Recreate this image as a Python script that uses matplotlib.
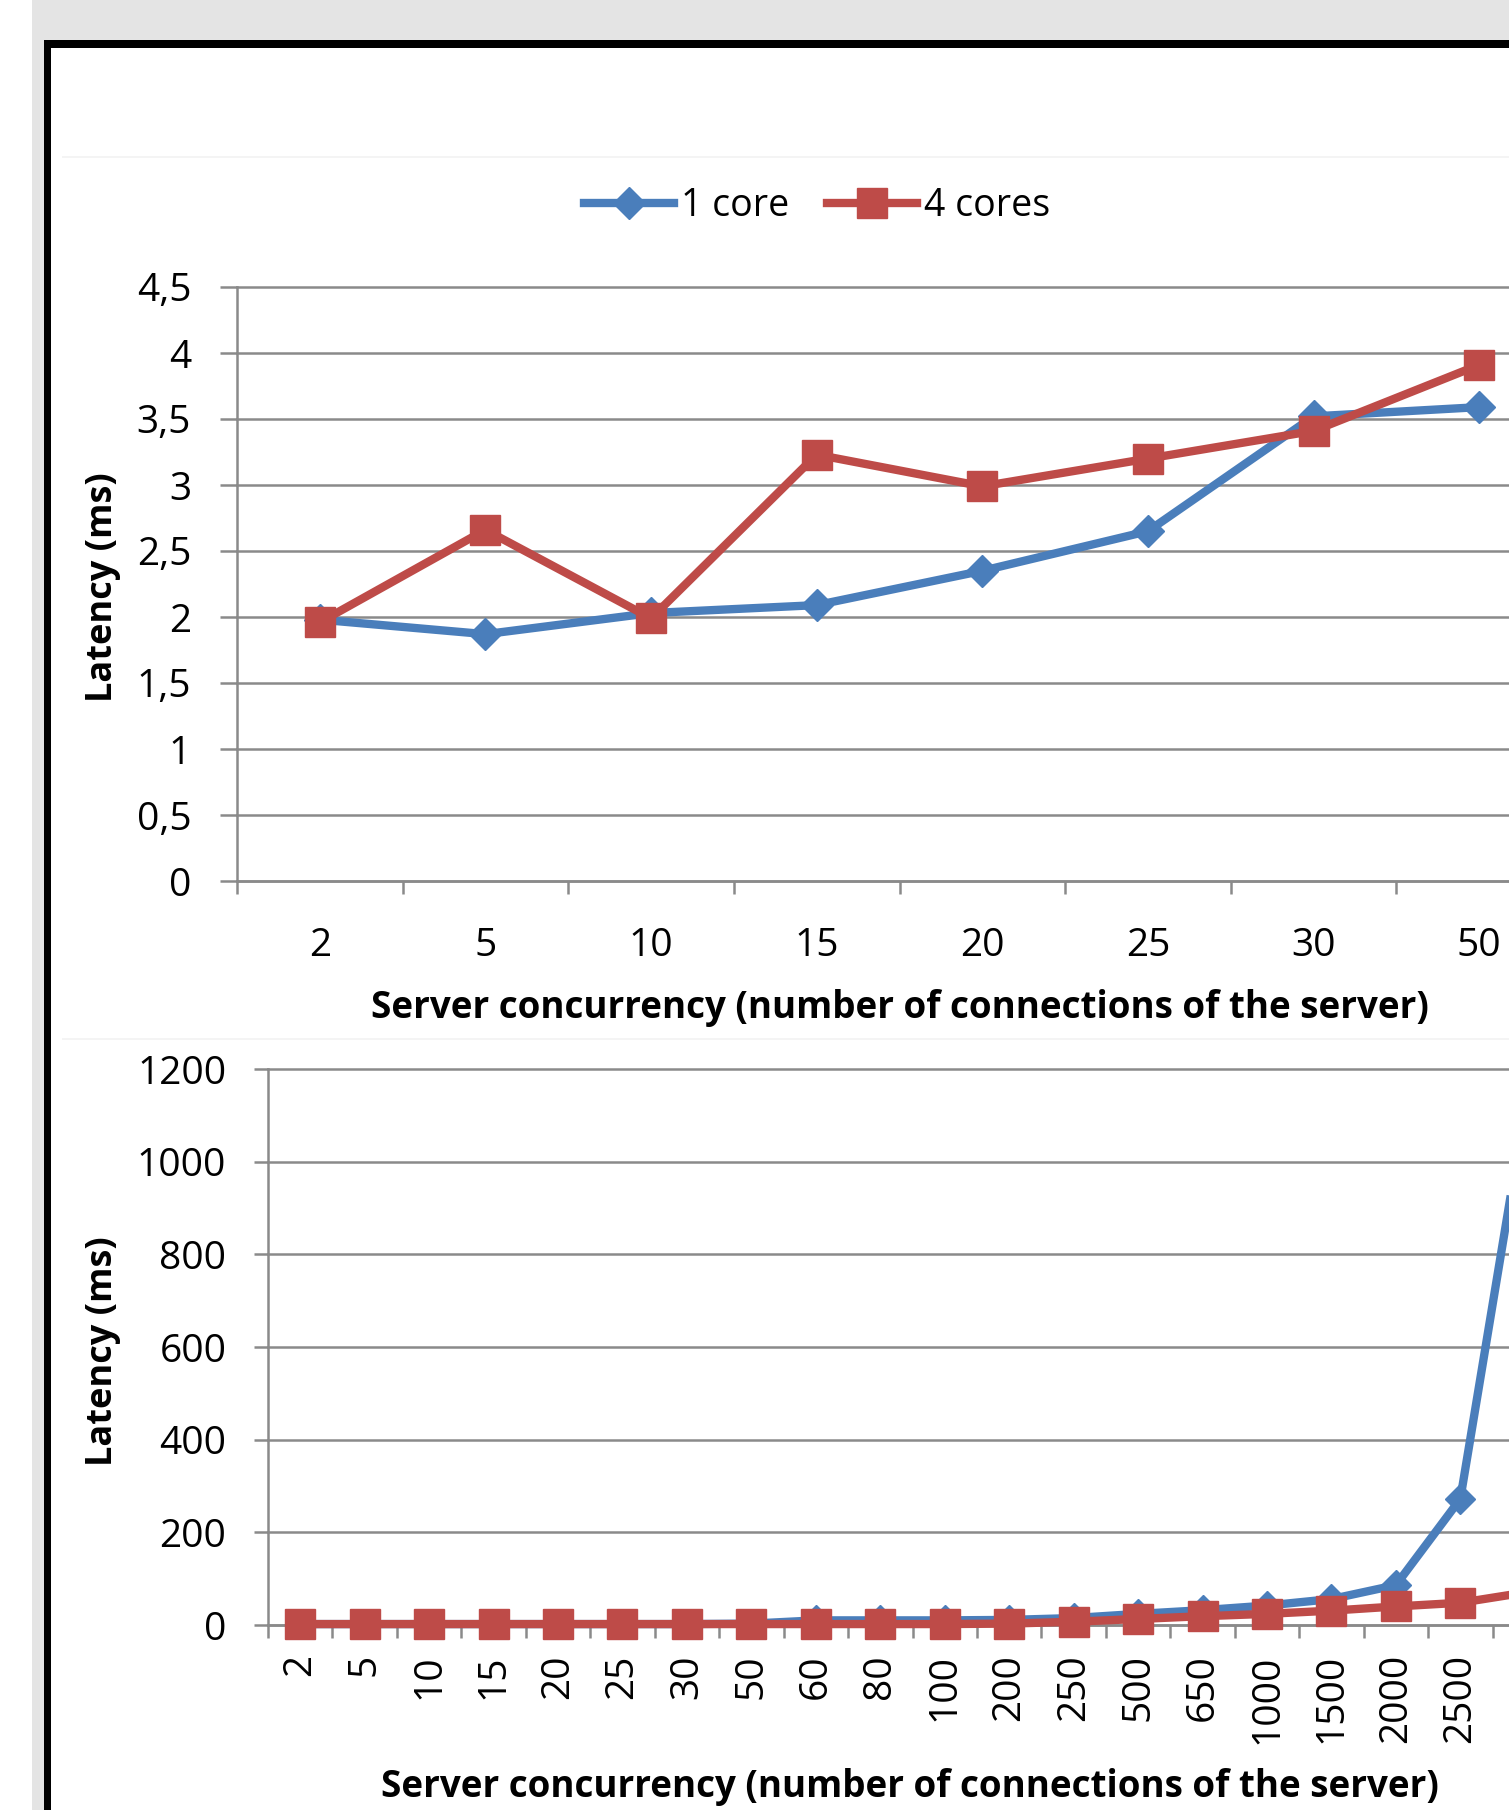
import matplotlib
matplotlib.use("Agg")
import matplotlib.pyplot as plt
import numpy as np
from matplotlib.patches import Rectangle
from matplotlib.lines import Line2D

plt.rcParams["font.family"] = ["Open Sans", "DejaVu Sans"]

# Upper chart: small concurrency range
top_labels = ["2", "5", "10", "15", "20", "25", "30", "50"]
top_one_core = [1.98, 1.87, 2.03, 2.09, 2.35, 2.65, 3.52, 3.59]
top_four_cores = [1.96, 2.66, 1.99, 3.23, 2.99, 3.20, 3.41, 3.91]
top_yticks = [0, 0.5, 1, 1.5, 2, 2.5, 3, 3.5, 4, 4.5]

# Lower chart: full concurrency range (last category is cut off by the crop)
bottom_labels = ["2", "5", "10", "15", "20", "25", "30", "50", "60", "80", "100",
                 "200", "250", "500", "650", "1000", "1500", "2000", "2500", "3000"]
bottom_one_core = [2, 2, 2, 2, 2, 2, 2, 3, 10, 10, 10, 11, 15, 24, 32, 42, 56, 86, 272, 1110]
bottom_four_cores = [2, 2, 2, 2, 2, 2, 2, 2, 2, 2, 2, 3, 7, 13, 19, 24, 31, 40, 48, 70]
bottom_yticks = [0, 200, 400, 600, 800, 1000, 1200]

series_names = ["1 core", "4 cores"]

BLUE = "#4a7ebb"
RED = "#be4b48"
GRID = "#8a8a8a"

W, H = 1509, 1810
fig = plt.figure(figsize=(W / 100, H / 100), dpi=100)


def px_box(x, y, w, h):
    """pixel box (top-left origin) -> figure fraction rect"""
    return [x / W, 1 - (y + h) / H, w / W, h / H]


def add_rect(x, y, w, h, color):
    l, b, ww, hh = px_box(x, y, w, h)
    fig.add_artist(Rectangle((l, b), ww, hh, transform=fig.transFigure,
                             facecolor=color, edgecolor="none", zorder=0))


# page background and frame
add_rect(32, 0, W - 32, 40, "#e4e4e4")
add_rect(32, 0, 12, H, "#e4e4e4")
add_rect(44, 40, 7, H - 40, "black")
add_rect(44, 40, W - 44, 8, "black")
add_rect(62, 156, W - 62, 2, "#f4f4f4")
add_rect(62, 1038, W - 62, 2, "#f4f4f4")


def style_axes(ax, labels, yticks, ylabels, xrot, xpad, ypad, ytick_len):
    n = len(labels)
    ax.set_xlim(-0.5, n - 0.5)
    ax.set_ylim(yticks[0], yticks[-1])
    ax.set_xticks(range(n))
    ax.set_xticklabels(labels, rotation=xrot, fontsize=28)
    ax.set_xticks(np.arange(-0.5, n), minor=True)
    ax.tick_params(axis="x", which="major", length=0, pad=xpad)
    ax.tick_params(axis="x", which="minor", length=9, width=1.8, color=GRID)
    ax.set_yticks(yticks)
    ax.set_yticklabels(ylabels, fontsize=28)
    ax.tick_params(axis="y", length=ytick_len, width=1.8, color=GRID, pad=ypad)
    ax.grid(axis="y", color=GRID, linewidth=1.8)
    for gl in ax.get_ygridlines():
        gl.set_clip_on(False)
    ax.set_axisbelow(True)
    for s in ["top", "right"]:
        ax.spines[s].set_visible(False)
    for s in ["left", "bottom"]:
        ax.spines[s].set_color(GRID)
        ax.spines[s].set_linewidth(1.8)


def plot_series(ax, x, one, four, ms_d, ms_s):
    ax.plot(x, one, color=BLUE, lw=6, marker="D", ms=ms_d, mfc=BLUE, mec=BLUE,
            clip_on=False, zorder=3, label=series_names[0])
    ax.plot(x, four, color=RED, lw=6, marker="s", ms=ms_s, mfc=RED, mec=RED,
            clip_on=False, zorder=4, label=series_names[1])


# top chart
ax1 = fig.add_axes(px_box(237, 287, 1325, 594))
plot_series(ax1, range(len(top_labels)), top_one_core, top_four_cores, 16, 22)
style_axes(ax1, top_labels, top_yticks,
           [f"{v:g}".replace(".", ",") for v in top_yticks], 0, 33, 21, 12)

# bottom chart
ax2 = fig.add_axes(px_box(268, 1069, 1289, 556))
plot_series(ax2, range(len(bottom_labels)), bottom_one_core, bottom_four_cores, 15, 22)
style_axes(ax2, bottom_labels, bottom_yticks, [str(v) for v in bottom_yticks],
           90, 21, 20, 10)
# the last category sits past the cropped right edge, its label is not shown
ax2.get_xticklabels()[-1].set_visible(False)

xlabel = "Server concurrency (number of connections of the server)"
fig.text(900 / W, 1 - 1008 / H, xlabel, ha="center", va="center",
         fontsize=26.5, fontweight="bold")
fig.text(910 / W, 1 - 1787 / H, xlabel, ha="center", va="center",
         fontsize=26.5, fontweight="bold")
fig.text(103 / W, 1 - 587 / H, "Latency (ms)", ha="center", va="center",
         rotation=90, fontsize=26, fontweight="bold")
fig.text(103 / W, 1 - 1351 / H, "Latency (ms)", ha="center", va="center",
         rotation=90, fontsize=26, fontweight="bold")

handles = [Line2D([], [], color=BLUE, lw=6, marker="D", ms=16),
           Line2D([], [], color=RED, lw=6, marker="s", ms=22)]
fig.legend(handles, series_names, loc="center", bbox_to_anchor=(817 / W, 1 - 206 / H),
           ncol=2, frameon=False, fontsize=27, handlelength=2.4,
           handletextpad=0.2, columnspacing=1.0)

fig.savefig("out.png", dpi=100, facecolor="white")
